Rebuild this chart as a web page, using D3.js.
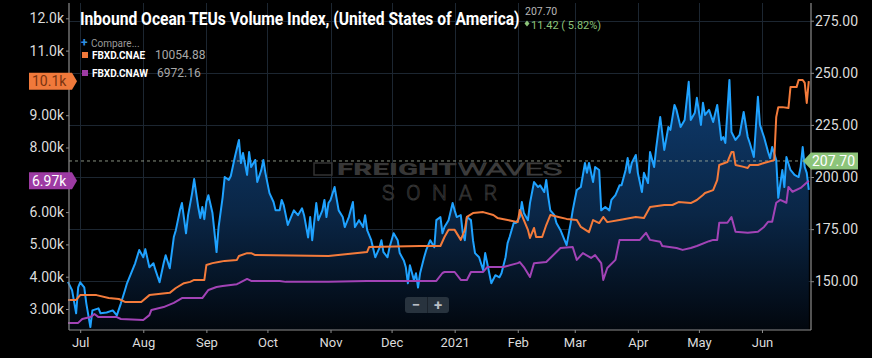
<!DOCTYPE html>
<html>
<head>
<meta charset="utf-8">
<script src="https://cdn.jsdelivr.net/npm/d3@7"></script>
<style>
  html, body { margin: 0; padding: 0; background: #000; }
  svg { display: block; font-family: Roboto, "Open Sans", sans-serif; }
</style>
</head>
<body>
<div id="chart"></div>
<script>
// Inbound Ocean TEUs Volume Index (right axis)
const teuDates = ['2020-06-25','2020-06-27','2020-06-29','2020-06-30','2020-07-01','2020-07-03','2020-07-04','2020-07-06','2020-07-07','2020-07-10','2020-07-11','2020-07-14','2020-07-17','2020-07-19','2020-07-21','2020-07-23','2020-07-24','2020-07-26','2020-07-28','2020-07-30',
  '2020-08-01','2020-08-02','2020-08-04','2020-08-06','2020-08-07','2020-08-09','2020-08-11','2020-08-12','2020-08-14','2020-08-16','2020-08-17','2020-08-19','2020-08-20','2020-08-22','2020-08-23','2020-08-25','2020-08-26','2020-08-28','2020-08-29','2020-08-30','2020-08-31',
  '2020-09-01','2020-09-02','2020-09-04','2020-09-06','2020-09-07','2020-09-09','2020-09-10','2020-09-12','2020-09-13','2020-09-15','2020-09-17','2020-09-18','2020-09-19','2020-09-21','2020-09-22','2020-09-23','2020-09-25','2020-09-26','2020-09-28','2020-09-29','2020-09-30',
  '2020-10-02','2020-10-04','2020-10-05','2020-10-07','2020-10-08','2020-10-09','2020-10-11','2020-10-13','2020-10-14','2020-10-16','2020-10-18','2020-10-19','2020-10-21','2020-10-22','2020-10-23','2020-10-25','2020-10-26','2020-10-28','2020-10-29','2020-10-30','2020-10-31',
  '2020-11-01','2020-11-03','2020-11-05','2020-11-07','2020-11-08','2020-11-10','2020-11-12','2020-11-13','2020-11-15','2020-11-17','2020-11-18','2020-11-19','2020-11-21','2020-11-23','2020-11-25','2020-11-26','2020-11-27','2020-11-29','2020-11-30',
  '2020-12-02','2020-12-04','2020-12-05','2020-12-07','2020-12-08','2020-12-09','2020-12-10','2020-12-12','2020-12-13','2020-12-14','2020-12-15','2020-12-17','2020-12-18','2020-12-20','2020-12-22','2020-12-23','2020-12-25','2020-12-26','2020-12-27','2020-12-29','2020-12-31',
  '2021-01-01','2021-01-02','2021-01-04','2021-01-05','2021-01-06','2021-01-07','2021-01-09','2021-01-10','2021-01-11','2021-01-13','2021-01-15','2021-01-16','2021-01-18','2021-01-19','2021-01-21','2021-01-23','2021-01-24','2021-01-26','2021-01-27','2021-01-28','2021-01-30','2021-01-31',
  '2021-02-02','2021-02-03','2021-02-04','2021-02-06','2021-02-07','2021-02-09','2021-02-11','2021-02-12','2021-02-14','2021-02-15','2021-02-16','2021-02-17','2021-02-19','2021-02-20','2021-02-22','2021-02-24','2021-02-25','2021-02-27','2021-02-28',
  '2021-03-01','2021-03-02','2021-03-04','2021-03-06','2021-03-07','2021-03-08','2021-03-10','2021-03-11','2021-03-13','2021-03-14','2021-03-16','2021-03-18','2021-03-19','2021-03-21','2021-03-23','2021-03-24','2021-03-26','2021-03-27','2021-03-28','2021-03-29','2021-03-31',
  '2021-04-01','2021-04-03','2021-04-04','2021-04-06','2021-04-07','2021-04-09','2021-04-10','2021-04-12','2021-04-14','2021-04-16','2021-04-17','2021-04-19','2021-04-20','2021-04-22','2021-04-24','2021-04-26','2021-04-27','2021-04-29','2021-04-30',
  '2021-05-02','2021-05-03','2021-05-04','2021-05-06','2021-05-08','2021-05-10','2021-05-12','2021-05-13','2021-05-14','2021-05-16','2021-05-17','2021-05-19','2021-05-21','2021-05-23','2021-05-25','2021-05-26','2021-05-28','2021-05-30','2021-05-31',
  '2021-06-02','2021-06-04','2021-06-05','2021-06-06','2021-06-08','2021-06-09','2021-06-11','2021-06-12','2021-06-13','2021-06-15','2021-06-17','2021-06-19','2021-06-20','2021-06-21','2021-06-22','2021-06-23','2021-06-24'];
const teuValues = [149.7,145.7,134.6,147,149.5,147,139.4,128,136,137,134.6,135,136,133.6,139.4,145.7,149,153.8,158.6,165,
  161.5,165.4,156.7,158.6,155.3,149.5,158.6,162.5,156.2,171.2,174.5,184,187.5,173,181.7,192.3,199,185.6,180.3,185.6,179.8,
  188,191.3,182.7,164,176,190.4,200,198.6,200.5,209.6,217.8,206.7,211.5,201,212,204.8,208.2,197.6,203.4,208.2,202,
  192.3,188,184,184,189,186.5,177,181.7,184,181.7,185,181.7,171,180.8,169.7,187.5,179.3,184,189,180.8,187.5,
  189,195.2,184,180.8,176,180.8,188,176,179.3,176,181.7,174.5,169.7,161.5,165.9,169.7,164,161.5,166.3,
  173,169.7,163.5,160,156.7,149,157.7,150.5,153.8,147,153.8,161.5,164.9,169.7,166.3,179.3,180.8,173,176,179.3,187.5,
  184,180.8,181.7,173,169.7,180.8,179.3,169.7,163.5,161.5,155.3,163.5,153.8,149,152.9,151.9,153.8,161.5,168.3,171.2,177.9,177.9,
  180.8,188,182.7,179.3,187.5,197.6,195.2,196,192.8,198.6,190.4,184,181.7,177.9,174.5,169.7,167.3,177.9,184,
  189,193.8,195.2,206.7,202,206.7,197.6,204.8,203.4,184,185.6,184,189,191.3,196,196,203.4,209.1,202,206.7,210.6,
  202,192.8,202,197.1,212,204.8,213.9,228.8,213,224,222.6,234.6,232.2,224,227.4,245.7,227.4,230.8,238,
  225,235.6,229.8,232.2,226.4,234.6,217.8,219.2,216.3,246.6,221.6,217.8,220.2,231.2,219.2,216.3,209.6,238.5,225,
  219.2,212,209.1,214.4,208.2,190,203.4,195.2,209.6,203.4,201,200,204.8,214.4,204.8,202,193.8];

// FBXD.CNAE (left axis)
const cnaeDates = ['2020-06-25','2020-06-29','2020-07-01','2020-07-09','2020-07-15','2020-07-20','2020-07-23','2020-07-31','2020-08-04','2020-08-14','2020-08-17','2020-08-21','2020-08-24','2020-08-26','2020-08-31',
  '2020-09-01','2020-09-04','2020-09-07','2020-09-10','2020-09-16','2020-09-17','2020-09-21','2020-09-23','2020-09-25','2020-10-31','2020-11-19','2020-11-20','2020-12-15','2020-12-25','2020-12-27','2020-12-29',
  '2021-01-01','2021-01-04','2021-01-06','2021-01-07','2021-01-10','2021-01-15','2021-01-20','2021-01-22','2021-01-27','2021-02-01','2021-02-02','2021-02-04','2021-02-06','2021-02-07','2021-02-09','2021-02-10','2021-02-13','2021-02-15','2021-02-17','2021-02-21','2021-02-25',
  '2021-03-02','2021-03-04','2021-03-08','2021-03-10','2021-03-13','2021-03-15','2021-03-17','2021-03-23','2021-03-31','2021-04-04','2021-04-07','2021-04-14','2021-04-18','2021-04-21','2021-04-27','2021-04-30',
  '2021-05-03','2021-05-04','2021-05-08','2021-05-10','2021-05-11','2021-05-15','2021-05-17','2021-05-18','2021-05-19','2021-05-23','2021-05-25','2021-05-26','2021-05-30',
  '2021-06-02','2021-06-07','2021-06-08','2021-06-09','2021-06-11','2021-06-14','2021-06-15','2021-06-18','2021-06-19','2021-06-21','2021-06-22','2021-06-23','2021-06-24'];
const cnaeValues = [3280,3280,3430,3430,3340,3310,3220,3220,3430,3500,3650,3800,3840,3900,3900,
  4360,4420,4455,4490,4520,4640,4730,4730,4670,4640,4765,4920,4950,4950,5230,5450,
  5450,5140,5450,5850,5970,6000,5910,5820,5755,5690,6065,5755,5450,5200,5510,5230,5230,5600,5910,5850,5790,
  5755,5540,5380,5755,5660,5850,5690,5755,5850,5820,6160,6220,6220,6310,6280,6375,
  6530,6590,6680,6990,7460,7550,7860,7860,7460,7400,7365,7460,7460,
  7520,7610,8940,9250,9250,9220,9870,9870,10090,10090,10000,9380,10054.88];

// FBXD.CNAW (left axis)
const cnawDates = ['2020-06-25','2020-06-30','2020-07-02','2020-07-06','2020-07-08','2020-07-10','2020-07-19','2020-07-21','2020-08-01','2020-08-04','2020-08-05','2020-08-11','2020-08-16','2020-08-20','2020-08-30',
  '2020-09-02','2020-09-06','2020-09-09','2020-09-16','2020-09-17','2020-09-21','2020-09-23','2020-10-07','2020-10-10','2020-10-31','2020-11-19','2020-12-23','2020-12-26','2020-12-27',
  '2021-01-01','2021-01-04','2021-01-07','2021-01-09','2021-01-15','2021-01-17','2021-01-25','2021-02-01','2021-02-02','2021-02-04','2021-02-07','2021-02-09','2021-02-15','2021-02-22','2021-02-28',
  '2021-03-02','2021-03-05','2021-03-09','2021-03-11','2021-03-14','2021-03-15','2021-03-17','2021-03-21','2021-03-23','2021-04-02','2021-04-05','2021-04-07','2021-04-12','2021-04-13','2021-04-20','2021-04-23','2021-04-27','2021-04-30',
  '2021-05-06','2021-05-08','2021-05-10','2021-05-11','2021-05-15','2021-05-17','2021-05-19','2021-05-25','2021-05-30',
  '2021-06-02','2021-06-04','2021-06-06','2021-06-08','2021-06-10','2021-06-13','2021-06-14','2021-06-16','2021-06-20','2021-06-24'];
const cnawValues = [2570,2570,2690,2750,2845,2750,2750,2690,2660,2810,2970,3060,3190,3340,3340,
  3590,3680,3710,3770,3800,3930,3870,3870,3840,3840,3870,3870,4115,4146,
  4146,3900,3900,4146,4146,4300,4300,4420,4455,4300,3990,4420,4455,4890,4920,
  4520,4730,4580,4670,4420,3900,4270,4520,5140,5140,5360,5140,5080,4950,4890,4830,4890,4950,
  5100,5140,5140,5670,5670,5850,5390,5360,5390,
  5540,5700,5700,6290,6380,6290,6780,6630,6750,6972.16];

// 7.00k and 10.0k sit under the value tags, so they are left out
const leftTicks = [3000, 4000, 5000, 6000, 8000, 9000, 11000, 12000];
const rightTicks = [150, 175, 200, 225, 250, 275];
const monthTicks = ['2020-07-01','2020-08-01','2020-09-01','2020-10-01','2020-11-01','2020-12-01','2021-01-01','2021-02-01','2021-03-01','2021-04-01','2021-05-01','2021-06-01'];

const teuLast = 207.70, teuChange = 11.42, teuChangePct = 5.82;
const titleText = 'Inbound Ocean TEUs Volume Index, (United States of America)';

const W = 872, H = 358;
const margin = { top: 3, right: 61, bottom: 28, left: 69 };
const bottom = H - margin.bottom, right = W - margin.right;

const parse = d3.timeParse('%Y-%m-%d');
const teu = teuDates.map((d, i) => ({ date: parse(d), value: teuValues[i] }));
const cnae = cnaeDates.map((d, i) => ({ date: parse(d), value: cnaeValues[i] }));
const cnaw = cnawDates.map((d, i) => ({ date: parse(d), value: cnawValues[i] }));

const svg = d3.select('#chart').append('svg')
    .attr('width', W)
    .attr('height', H);

svg.append('rect').attr('width', W).attr('height', H).attr('fill', '#000');

const x = d3.scaleTime()
    .domain([new Date(2020, 5, 25, 12), new Date(2021, 5, 25, 2)])
    .range([margin.left, right]);
const yR = d3.scaleLinear().domain([126.6, 283.5]).range([bottom, margin.top]);
const yL = d3.scaleLinear().domain([2350, 12474]).range([bottom, margin.top]);

const defs = svg.append('defs');
const grad = defs.append('linearGradient')
    .attr('id', 'teuFill')
    .attr('gradientUnits', 'userSpaceOnUse')
    .attr('x1', 0).attr('x2', 0)
    .attr('y1', yR(250)).attr('y2', bottom);
grad.append('stop').attr('offset', 0).attr('stop-color', '#0e3c70');
grad.append('stop').attr('offset', 0.55).attr('stop-color', '#0a2646');
grad.append('stop').attr('offset', 1).attr('stop-color', '#02070e');

// grid
const grid = svg.append('g').attr('stroke', '#1c2631').attr('stroke-width', 1);
grid.selectAll('.vg').data(monthTicks.map(parse)).enter().append('line')
    .attr('x1', d => Math.round(x(d)) + 0.5).attr('x2', d => Math.round(x(d)) + 0.5)
    .attr('y1', margin.top).attr('y2', bottom);
grid.selectAll('.hg').data(rightTicks).enter().append('line')
    .attr('x1', margin.left).attr('x2', right)
    .attr('y1', d => Math.round(yR(d)) + 0.5).attr('y2', d => Math.round(yR(d)) + 0.5);

// watermark
const wm = svg.append('g').attr('opacity', 0.9);
wm.append('rect').attr('x', 314).attr('y', 163).attr('width', 18).attr('height', 12)
    .attr('fill', 'none').attr('stroke', '#3a3a3a').attr('stroke-width', 1.5);
wm.append('text').attr('x', 337).attr('y', 175).text('FREIGHT')
    .attr('font-size', 17).attr('font-weight', 900).attr('fill', '#3d3d3d')
    .attr('textLength', 120).attr('lengthAdjust', 'spacingAndGlyphs');
wm.append('text').attr('x', 458).attr('y', 175).text('WAVES')
    .attr('font-size', 17).attr('font-weight', 300).attr('fill', 'none')
    .attr('stroke', '#434343').attr('stroke-width', 0.9)
    .attr('textLength', 104).attr('lengthAdjust', 'spacingAndGlyphs');
wm.append('text').attr('x', 382).attr('y', 200).text('SONAR')
    .attr('font-size', 21).attr('font-weight', 300).attr('fill', 'none')
    .attr('stroke', '#3a3a3a').attr('stroke-width', 0.9)
    .attr('textLength', 115).attr('lengthAdjust', 'spacing');

// TEU area + line
const area = d3.area()
    .x(d => x(d.date))
    .y0(bottom)
    .y1(d => yR(d.value));
svg.append('path').datum(teu).attr('d', area).attr('fill', 'url(#teuFill)');

// current value dashed line
svg.append('line')
    .attr('x1', margin.left).attr('x2', right)
    .attr('y1', yR(teuLast)).attr('y2', yR(teuLast))
    .attr('stroke', '#a9b39f').attr('stroke-width', 1).attr('stroke-dasharray', '3,3')
    .attr('opacity', 0.8);

const lineR = d3.line().x(d => x(d.date)).y(d => yR(d.value));
const lineL = d3.line().x(d => x(d.date)).y(d => yL(d.value));

svg.append('path').datum(teu).attr('d', lineR)
    .attr('fill', 'none').attr('stroke', '#1fa2ff').attr('stroke-width', 2).attr('stroke-linejoin', 'round');
svg.append('path').datum(cnaw).attr('d', lineL)
    .attr('fill', 'none').attr('stroke', '#a243b6').attr('stroke-width', 2).attr('stroke-linejoin', 'round');
svg.append('path').datum(cnae).attr('d', lineL)
    .attr('fill', 'none').attr('stroke', '#f47b3b').attr('stroke-width', 2).attr('stroke-linejoin', 'round');

// axes
const leftAxis = svg.append('g')
    .attr('transform', 'translate(' + margin.left + ',0)')
    .call(d3.axisLeft(yL).tickValues(leftTicks).tickFormat(d3.format('.3s')).tickSize(3).tickPadding(2));
const rightAxis = svg.append('g')
    .attr('transform', 'translate(' + right + ',0)')
    .call(d3.axisRight(yR).tickValues(rightTicks).tickFormat(d3.format('.2f')).tickSize(3).tickPadding(1));
const bottomAxis = svg.append('g')
    .attr('transform', 'translate(0,' + bottom + ')')
    .call(d3.axisBottom(x).tickValues(monthTicks.map(parse))
        .tickFormat(d => d.getMonth() === 0 ? d3.timeFormat('%Y')(d) : d3.timeFormat('%b')(d))
        .tickSize(3).tickPadding(5));

[leftAxis, rightAxis, bottomAxis].forEach(g => {
    g.select('.domain').attr('stroke', '#8c8c8c').attr('stroke-width', 1.2);
    g.selectAll('.tick line').attr('stroke', '#8c8c8c');
    g.selectAll('.tick text').attr('fill', '#dcdcdc').attr('font-family', 'Roboto, sans-serif');
});
leftAxis.selectAll('.tick text').attr('font-size', 14);
rightAxis.selectAll('.tick text').attr('font-size', 14);
bottomAxis.selectAll('.tick text').attr('font-size', 13);
leftAxis.select('.domain').attr('d', 'M0,' + margin.top + 'V' + bottom);
rightAxis.select('.domain').attr('d', 'M0,' + margin.top + 'V' + bottom);
bottomAxis.select('.domain').attr('d', 'M' + margin.left + ',0H' + right);

// price labels on axes
function leftTag(value, color, textColor) {
    const yy = yL(value);
    const g = svg.append('g').attr('transform', 'translate(0,' + yy + ')');
    g.append('path')
        .attr('d', 'M29,-8.5H72L77,0L72,8.5H29Z')
        .attr('fill', color);
    g.append('text').attr('x', 32).attr('y', 5).text(d3.format('.3s')(value))
        .attr('font-size', 14).attr('fill', textColor);
}
leftTag(cnaeValues[cnaeValues.length - 1], '#f0793b', '#7a3310');
leftTag(cnawValues[cnawValues.length - 1], '#9d3ba3', '#ffffff');

const tag = svg.append('g').attr('transform', 'translate(0,' + yR(teuLast) + ')');
tag.append('path').attr('d', 'M803,0L811,-8.5H858V8.5H811Z').attr('fill', '#8cc47a');
tag.append('text').attr('x', 812).attr('y', 5).text(d3.format('.2f')(teuLast))
    .attr('font-size', 14).attr('fill', '#ffffff');

// title (squeezed horizontally to look like the condensed face) and header values
const title = svg.append('text').text(titleText)
    .attr('font-size', 18).attr('font-weight', 700).attr('fill', '#ffffff');
const titleScale = 440 / title.node().getComputedTextLength();
title.attr('transform', 'translate(80,25) scale(' + titleScale + ',1)');

svg.append('text').attr('x', 525).attr('y', 14.5).text(d3.format('.2f')(teuLast))
    .attr('font-size', 10.5).attr('fill', '#b8b8b8');
svg.append('path').attr('d', 'M527,20.5L529.5,23.5L527,26.5L524.5,23.5Z').attr('fill', '#8cc47a');
svg.append('text').attr('x', 531).attr('y', 28.5)
    .text(d3.format('.2f')(teuChange) + ' ( ' + d3.format('.2f')(teuChangePct) + '%)')
    .attr('font-size', 11).attr('fill', '#8cc47a');

// legend
svg.append('text').attr('x', 81).attr('y', 47).text('+')
    .attr('font-size', 12).attr('font-weight', 700).attr('fill', '#2f8fe0');
svg.append('text').attr('x', 91).attr('y', 47).text('Compare...')
    .attr('font-size', 10).attr('fill', '#9a9a9a');
const legend = [
    { name: 'FBXD.CNAE', color: '#f0793b', value: cnaeValues[cnaeValues.length - 1], y: 52, vx: 155 },
    { name: 'FBXD.CNAW', color: '#9d3ba3', value: cnawValues[cnawValues.length - 1], y: 70, vx: 157 }
];
const lg = svg.selectAll('.legend').data(legend).enter().append('g')
    .attr('transform', d => 'translate(0,' + d.y + ')');
lg.append('rect').attr('x', 82).attr('width', 6).attr('height', 6).attr('fill', d => d.color);
lg.append('text').attr('x', 92).attr('y', 7).text(d => d.name)
    .attr('font-size', 10).attr('font-weight', 700).attr('fill', '#ffffff');
lg.append('text').attr('x', d => d.vx).attr('y', 7).text(d => d3.format('.2f')(d.value))
    .attr('font-size', 12).attr('fill', '#a8a8a8');

// zoom buttons
const zb = svg.append('g');
zb.append('rect').attr('x', 405).attr('y', 297).attr('width', 44).attr('height', 16).attr('rx', 3).attr('fill', '#28333e');
zb.append('line').attr('x1', 427.5).attr('x2', 427.5).attr('y1', 297).attr('y2', 313).attr('stroke', '#1a222b');
zb.append('text').attr('x', 416).attr('y', 310).attr('text-anchor', 'middle').text('\u2212')
    .attr('font-size', 15).attr('font-weight', 700).attr('fill', '#b8bec4');
zb.append('text').attr('x', 438).attr('y', 310).attr('text-anchor', 'middle').text('+')
    .attr('font-size', 15).attr('font-weight', 700).attr('fill', '#b8bec4');
</script>
</body>
</html>
